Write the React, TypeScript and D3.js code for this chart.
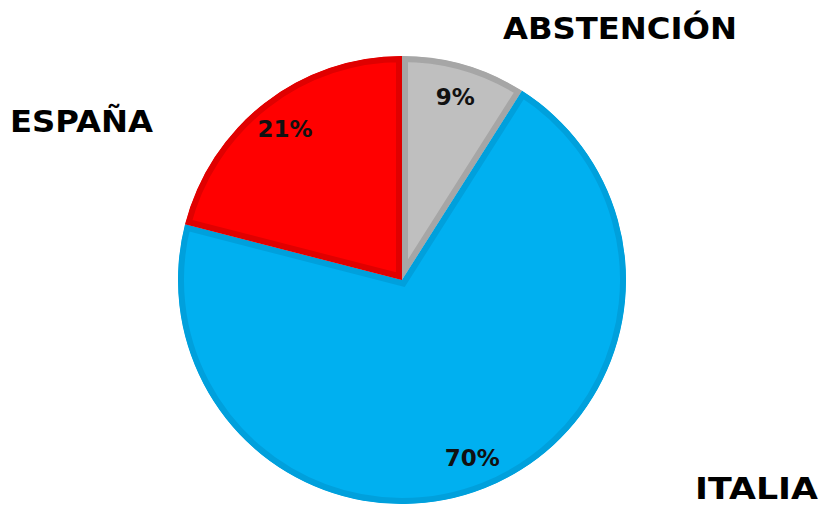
import * as d3 from "d3";

const categories = ["ABSTENCIÓN", "ITALIA", "ESPAÑA"];
const values = [9, 70, 21];
const fills = ["#bfbfbf", "#00b0f0", "#ff0000"];
const borders = ["#a6a6a6", "#00a0dc", "#e00000"];

const width = 822;
const height = 505;
const cx = 402;
const cy = 280;
const radius = 224;
const border = 6;

// category label layout: left x, baseline y, width
const catPos: [number, number, number][] = [
  [503, 39, 234],
  [695, 499, 123],
  [10, 132, 143],
];

const App = () => {
  const pie = d3
    .pie<number>()
    .value((d) => d)
    .sort(null);
  const arcs = pie(values);
  const arc = d3.arc<d3.PieArcDatum<number>>().innerRadius(0).outerRadius(radius);
  const labelArc = d3
    .arc<d3.PieArcDatum<number>>()
    .innerRadius(191)
    .outerRadius(191);

  return (
    <svg
      width={width}
      height={height}
      style={{ position: "absolute", left: 0, top: 0 }}
      fontFamily="Verdana, 'DejaVu Sans', sans-serif"
    >
      <defs>
        {arcs.map((d, i) => (
          <clipPath id={`clip-${i}`} key={i}>
            <path d={arc(d) || ""} />
          </clipPath>
        ))}
      </defs>
      <g transform={`translate(${cx},${cy})`}>
        {arcs.map((d, i) => (
          <path
            key={i}
            d={arc(d) || ""}
            fill={fills[i]}
            stroke={borders[i]}
            strokeWidth={border * 2}
            clipPath={`url(#clip-${i})`}
          />
        ))}
        {arcs.map((d, i) => {
          const [x, y] = labelArc.centroid(d);
          return (
            <text
              key={i}
              x={x}
              y={y}
              dy="0.36em"
              textAnchor="middle"
              fontSize={23}
              fontWeight="bold"
              fill="#111"
            >
              {d.data}%
            </text>
          );
        })}
      </g>
      {categories.map((c, i) => (
        <text
          key={c}
          x={catPos[i][0]}
          y={catPos[i][1]}
          textLength={catPos[i][2]}
          lengthAdjust="spacingAndGlyphs"
          fontSize={31}
          fontWeight="bold"
          fill="#000"
        >
          {c}
        </text>
      ))}
    </svg>
  );
};

export default App;
